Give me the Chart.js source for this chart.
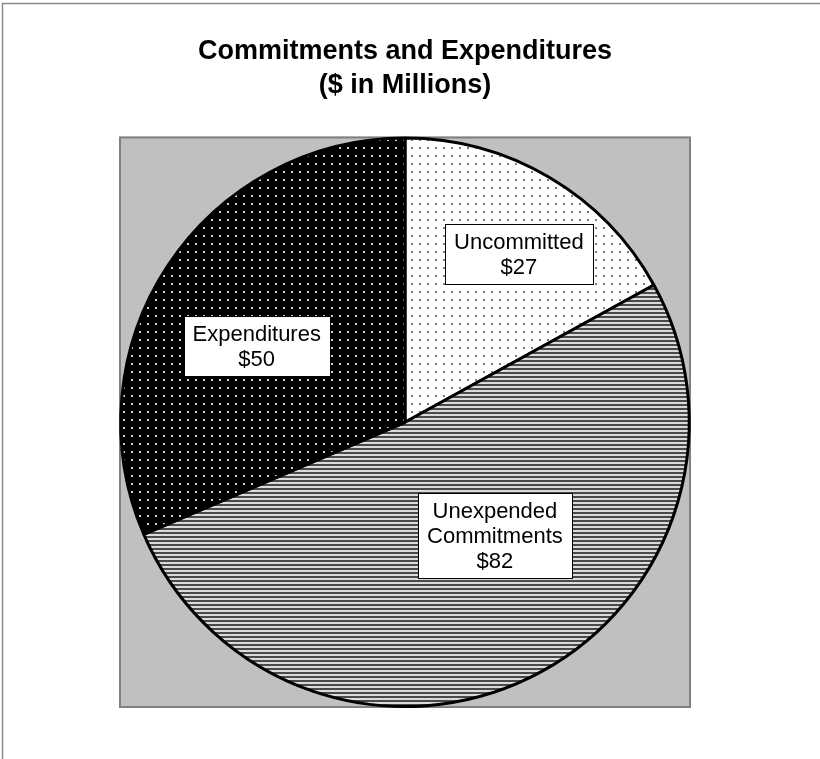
<!DOCTYPE html>
<html>
<head>
<meta charset="utf-8">
<title>Commitments and Expenditures</title>
<script src="https://cdn.jsdelivr.net/npm/chart.js@4.4.1/dist/chart.umd.min.js"></script>
<style>
  html, body { margin: 0; padding: 0; background: #fff; }
  #wrap { width: 820px; height: 759px; }
</style>
</head>
<body>
<div id="wrap"><canvas id="fundChart"></canvas></div>
<script>
// Данные диаграммы ($ млн)
const categories = ['Uncommitted', ['Unexpended', 'Commitments'], 'Expenditures'];
const amounts = [27, 82, 50];
const titleLines = ['Commitments and Expenditures', '($ in Millions)'];

const FONT = '"Liberation Sans", Arial, sans-serif';

// Штриховки секторов рисуем на маленьких холстах и повторяем
function makePattern(w, h, bg, draw) {
  const c = document.createElement('canvas');
  c.width = w;
  c.height = h;
  const g = c.getContext('2d');
  g.fillStyle = bg;
  g.fillRect(0, 0, w, h);
  draw(g);
  return g.createPattern(c, 'repeat');
}

const lightDots = makePattern(8, 8, '#ffffff', g => {
  g.fillStyle = '#7c7c7c';
  g.fillRect(3, 3, 2, 2);
});

const stripes = makePattern(4, 4, '#dadada', g => {
  g.fillStyle = '#4a4a4a';
  g.fillRect(0, 0, 4, 2);
});

const darkDots = makePattern(8, 8, '#000000', g => {
  g.fillStyle = '#d0d0d0';
  g.fillRect(3, 3, 2, 2);
});

// Рамка и серый фон области построения
const backdrop = {
  id: 'backdrop',
  beforeDraw(chart) {
    const { ctx, chartArea: a } = chart;
    ctx.save();
    ctx.fillStyle = '#ffffff';
    ctx.fillRect(0, 0, chart.width, chart.height);
    ctx.strokeStyle = '#8a8a8a';
    ctx.lineWidth = 1.5;
    ctx.strokeRect(2.5, 3.5, chart.width + 20, chart.height + 20);
    ctx.fillStyle = '#c0c0c0';
    ctx.fillRect(a.left, a.top, a.right - a.left, a.bottom - a.top);
    ctx.strokeStyle = '#808080';
    ctx.lineWidth = 2;
    ctx.strokeRect(a.left + 1, a.top + 1, a.right - a.left - 2, a.bottom - a.top - 2);
    ctx.restore();
  }
};

// Подписи секторов в белых рамках: радиус в долях от внешнего, сдвиг угла в градусах
const sliceLabels = {
  id: 'sliceLabels',
  afterDatasetsDraw(chart, args, opts) {
    const { ctx } = chart;
    const meta = chart.getDatasetMeta(0);
    ctx.save();
    ctx.font = opts.size + 'px ' + FONT;
    ctx.textAlign = 'center';
    ctx.textBaseline = 'middle';
    meta.data.forEach((arc, i) => {
      const p = arc.getProps(['x', 'y', 'startAngle', 'endAngle', 'outerRadius'], true);
      const mid = (p.startAngle + p.endAngle) / 2 + opts.shift[i] * Math.PI / 180;
      const r = p.outerRadius * opts.radius[i];
      const cx = p.x + Math.cos(mid) * r;
      const cy = p.y + Math.sin(mid) * r;
      const lines = [].concat(chart.data.labels[i], '$' + chart.data.datasets[0].data[i]);
      const tw = Math.max(...lines.map(t => ctx.measureText(t).width));
      const w = Math.round(tw + opts.padX * 2);
      const h = Math.round(lines.length * opts.lineHeight + opts.padY * 2);
      const left = Math.round(cx - w / 2) + 0.5;
      const top = Math.round(cy - h / 2) + 0.5;
      ctx.fillStyle = '#ffffff';
      ctx.fillRect(left, top, w, h);
      ctx.strokeStyle = '#000000';
      ctx.lineWidth = 1;
      ctx.strokeRect(left, top, w, h);
      ctx.fillStyle = '#000000';
      lines.forEach((t, k) => {
        ctx.fillText(t, cx, top + opts.padY + opts.lineHeight * (k + 0.5) + 1);
      });
    });
    ctx.restore();
  }
};

new Chart(document.getElementById('fundChart'), {
  type: 'pie',
  data: {
    labels: categories,
    datasets: [{
      data: amounts,
      backgroundColor: [lightDots, stripes, darkDots],
      borderColor: '#000000',
      borderWidth: 3
    }]
  },
  options: {
    responsive: true,
    maintainAspectRatio: false,
    animation: false,
    layout: {
      padding: { top: 0, left: 119, right: 129, bottom: 51 }
    },
    plugins: {
      legend: { display: false },
      tooltip: { enabled: false },
      title: {
        display: true,
        text: titleLines,
        color: '#000000',
        font: { family: FONT, size: 27, weight: 'bold', lineHeight: 1.25 },
        padding: { top: 35, bottom: 34 }
      },
      sliceLabels: {
        size: 22,
        lineHeight: 25,
        padX: 9,
        padY: 5,
        radius: [0.715, 0.51, 0.587],
        shift: [3.5, -12.3, -6.1]
      }
    }
  },
  plugins: [backdrop, sliceLabels]
});
</script>
</body>
</html>
